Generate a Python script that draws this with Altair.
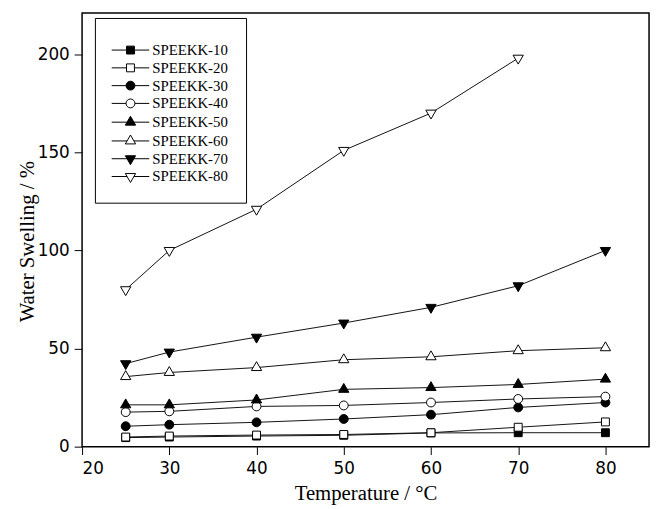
import altair as alt
import pandas as pd

temps = [25, 30, 40, 50, 60, 70, 80]
series_names = ["SPEEKK-10", "SPEEKK-20", "SPEEKK-30", "SPEEKK-40",
                "SPEEKK-50", "SPEEKK-60", "SPEEKK-70", "SPEEKK-80"]
s10 = [4.6, 4.9, 5.4, 5.8, 7.0, 7.1, 7.1]
s20 = [4.9, 5.4, 5.9, 6.2, 7.1, 9.9, 12.6]
s30 = [10.4, 11.2, 12.4, 14.1, 16.3, 20.0, 22.5]
s40 = [17.6, 18.0, 20.5, 21.0, 22.5, 24.3, 25.5]
s50 = [21.3, 21.3, 23.8, 29.2, 30.1, 31.7, 34.4]
s60 = [35.7, 37.8, 40.3, 44.3, 45.8, 48.9, 50.4]
s70 = [42.3, 48.2, 55.8, 63.0, 71.0, 82.0, 100.0]
s80 = [80.0, 100.0, 121.0, 151.0, 170.0, 198.0]  # 25..70
all_series = [s10, s20, s30, s40, s50, s60, s70, s80]

rows = []
for name, vals in zip(series_names, all_series):
    for t, v in zip(temps, vals):
        rows.append({"series": name, "temp": t, "swell": v})
df = pd.DataFrame(rows)

# marker shapes (unit coords, scaled by sqrt(size)/2)
sq = "M-1,-1H1V1H-1Z"
circ = "M1.125,0A1.125,1.125,0,1,1,-1.125,0A1.125,1.125,0,1,1,1.125,0Z"
tri_up = "M0,-1.5L1.3,0.75L-1.3,0.75Z"
tri_dn = "M0,1.5L1.3,-0.75L-1.3,-0.75Z"
plot_shapes = [sq, sq, circ, circ, tri_up, tri_up, tri_dn, tri_dn]

ln_sq = "M-4.75,0H-1M1,0H4.75"
ln_ci = "M-4.75,0H-1.125M1.125,0H4.75"
ln_tr = "M-4.75,0H-0.87M0.87,0H4.75"
legend_shapes = [ln_sq + sq, ln_sq + sq, ln_ci + circ, ln_ci + circ,
                 ln_tr + tri_up, ln_tr + tri_up, ln_tr + tri_dn, ln_tr + tri_dn]
fills = ["black", "white"] * 4

x_enc = alt.X("temp:Q",
              scale=alt.Scale(domain=[20, 85], nice=False, zero=False),
              axis=alt.Axis(title="Temperature / °C", values=[20, 30, 40, 50, 60, 70, 80],
                            titleY=54, titleBaseline="alphabetic", titleX=287, labelPadding=6))
y_enc = alt.Y("swell:Q",
              scale=alt.Scale(domain=[0, 221], nice=False),
              axis=alt.Axis(title="Water Swelling / %", values=[0, 50, 100, 150, 200],
                            titleX=-49, titleY=231, titleBaseline="alphabetic",
                            titleAlign="center", titleAngle=270, labelPadding=5))

leg = alt.Legend(title=" ", titleFontSize=5, titlePadding=2, orient="none",
                 legendX=13, legendY=5, padding=18, strokeColor="black", fillColor="white",
                 labelFont="Liberation Serif", labelFontSize=15, labelColor="black",
                 symbolSize=64, symbolStrokeWidth=1,
                 symbolOffset=10.5, labelOffset=14.5, rowPadding=2, symbolOpacity=1)

base = alt.Chart(df)

lines = base.mark_line(color="#111111", strokeWidth=1).encode(
    x=x_enc, y=y_enc, detail="series:N")

points = base.mark_point(filled=True, size=64, stroke="black", strokeWidth=1,
                         opacity=1, fillOpacity=1).encode(
    x=x_enc, y=y_enc,
    shape=alt.Shape("series:N", scale=alt.Scale(domain=series_names, range=plot_shapes), legend=None),
    fill=alt.Fill("series:N", scale=alt.Scale(domain=series_names, range=fills), legend=None),
)

legend_layer = base.mark_point(filled=True, size=64, stroke="black", strokeWidth=1,
                               opacity=0).encode(
    x=x_enc, y=y_enc,
    shape=alt.Shape("series:N", scale=alt.Scale(domain=series_names, range=legend_shapes), legend=leg),
    fill=alt.Fill("series:N", scale=alt.Scale(domain=series_names, range=fills), legend=leg),
)

chart = alt.layer(lines, points, legend_layer).resolve_scale(
    shape="independent", fill="independent"
).properties(
    width=574, height=439,
    autosize=alt.AutoSizeParams(type="none"),
    padding={"left": 75, "top": 2, "right": 3, "bottom": 58},
    background="white",
).configure_view(
    stroke="black", strokeWidth=1.5
).configure_axis(
    domain=False, grid=False, ticks=True, tickColor="black", tickSize=8, tickWidth=1,
    labelFont="DejaVu Sans", labelFontSize=17, labelColor="black", labelPadding=4,
    titleFont="Liberation Serif", titleFontSize=21, titleFontWeight="normal", titleColor="black",
)

chart.save("out.html", embed_options={"renderer": "svg", "actions": False})
